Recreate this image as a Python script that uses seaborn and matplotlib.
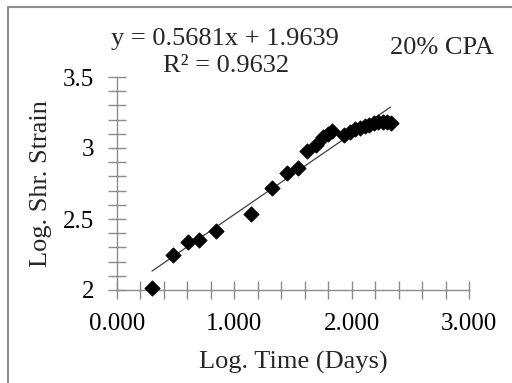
import numpy as np
import pandas as pd
import matplotlib
matplotlib.use("Agg")
import matplotlib.pyplot as plt
import seaborn as sns
from matplotlib.ticker import MultipleLocator, FormatStrFormatter, FuncFormatter
from matplotlib.patches import Rectangle

log_time = [0.298, 0.477, 0.604, 0.695, 0.848, 1.143, 1.325, 1.449, 1.546, 1.623,
            1.694, 1.753, 1.798, 1.835, 1.937, 1.986, 2.028, 2.071, 2.113, 2.150,
            2.190, 2.227, 2.264, 2.298, 2.332]
log_strain = [2.016, 2.246, 2.336, 2.352, 2.415, 2.537, 2.716, 2.822, 2.862, 2.979,
              3.023, 3.075, 3.099, 3.120, 3.094, 3.115, 3.134, 3.143, 3.155, 3.162,
              3.174, 3.186, 3.186, 3.186, 3.178]
slope = 0.5681
intercept = 1.9639
r2 = 0.9632

df = pd.DataFrame({"t": log_time, "s": log_strain})

sns.set_style("white")
plt.rcParams["font.family"] = ["Liberation Serif", "DejaVu Serif"]

W, H = 512, 383
FS = 19
TFS = 18
fig = plt.figure(figsize=(W / 100, H / 100), dpi=100)
ax = fig.add_axes([117 / W, 1 - 290 / H, (469 - 117) / W, (290 - 77) / H])

xf = np.array([min(log_time), max(log_time)])
ax.plot(xf, slope * xf + intercept, color="#404040", lw=0.9, zorder=2)
sns.scatterplot(data=df, x="t", y="s", marker="D", s=60, color="black",
                edgecolor="black", ax=ax, zorder=3, clip_on=False)

ax.set_xlim(0, 3)
ax.set_ylim(2, 3.5)
ax.xaxis.set_major_locator(MultipleLocator(1))
ax.xaxis.set_minor_locator(MultipleLocator(0.2))
ax.yaxis.set_major_locator(MultipleLocator(0.5))
ax.yaxis.set_minor_locator(MultipleLocator(0.1))
ax.xaxis.set_major_formatter(FormatStrFormatter("%.3f"))
ax.yaxis.set_major_formatter(FuncFormatter(lambda v, p: f"{v:g}"))

for s in ["top", "right"]:
    ax.spines[s].set_visible(False)
for s in ["left", "bottom"]:
    ax.spines[s].set_color("#8c8c8c")
    ax.spines[s].set_linewidth(1.0)
ax.tick_params(which="both", bottom=True, left=True, direction="inout",
               length=13, width=1.0, color="#8c8c8c", labelsize=TFS,
               labelcolor="black")
ax.tick_params(axis="x", which="major", pad=10)
ax.tick_params(axis="y", which="major", pad=10)

ax.set_xlabel("Log. Time (Days)", fontsize=FS, va="center")
ax.xaxis.set_label_coords(0.5, -(362 - 290) / (290 - 77))
ax.set_ylabel("Log. Shr. Strain", fontsize=FS, va="center")
ax.yaxis.set_label_coords(-(117 - 41) / (469 - 117), 0.5)

fig.text(225 / W, 1 - 45 / H, f"y = {slope}x + {intercept}", fontsize=FS,
         ha="center", va="baseline")
fig.text(226 / W, 1 - 72 / H, f"R² = {r2}", fontsize=FS, ha="center",
         va="baseline")
fig.text(442 / W, 1 - 54 / H, "20% CPA", fontsize=FS, ha="center",
         va="baseline")

fig.patches.append(Rectangle((8 / W, -0.05), 1.0, 1 - 7 / H + 0.05,
                             transform=fig.transFigure, fill=False,
                             edgecolor="#8c8c8c", lw=1.5))

fig.savefig("out.png", dpi=100)
